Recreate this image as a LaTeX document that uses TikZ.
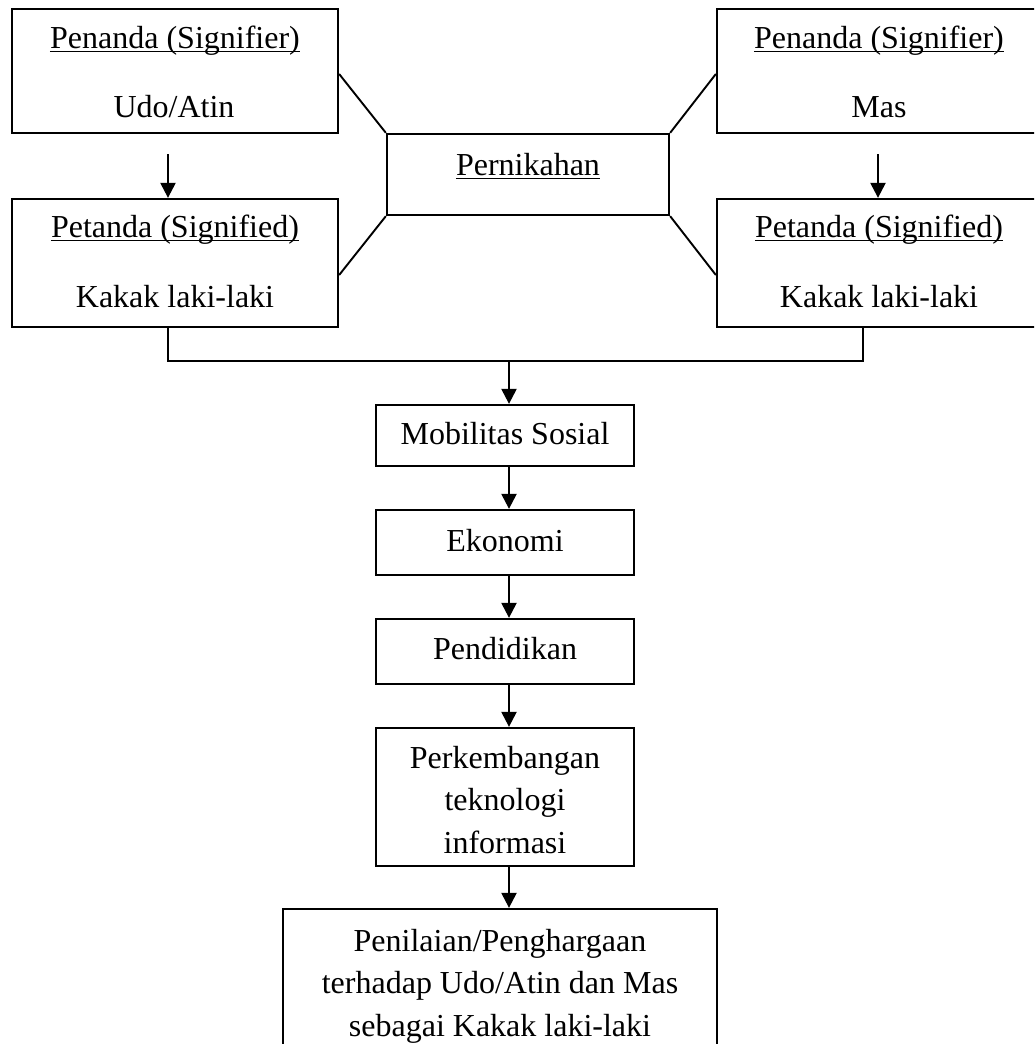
\documentclass[tikz,border=0pt]{standalone}
\usepackage{fontspec}
\setmainfont{Liberation Serif}
\usetikzlibrary{arrows.meta,calc}
\newcommand\ulnode[1]{\draw[uline] ([yshift=-3.5pt]#1.base west) -- ([yshift=-3.5pt]#1.base east);}
\begin{document}
\begin{tikzpicture}[x=1pt,y=-1pt,
  box/.style={draw, line width=2.3pt, rectangle, inner sep=0pt},
  txt/.style={anchor=base, inner sep=0pt, font=\fontsize{32}{42}\selectfont},
  link/.style={line width=1.9pt},
  arr/.style={line width=2.3pt, -{Triangle[length=15pt,width=15pt]}},
  uline/.style={line width=1.6pt}]
\clip (0,0) rectangle (1034,1044);
\fill[white] (0,0) rectangle (1034,1044);

% signifier / signified boxes
\node[box, minimum width=326pt, minimum height=124pt] (sigL) at (175,71) {};
\node[box, minimum width=326pt, minimum height=128pt] (sdL) at (175,263) {};
\node[box, minimum width=326pt, minimum height=124pt] (sigR) at (880,71) {};
\node[box, minimum width=326pt, minimum height=128pt] (sdR) at (880,263) {};

% marriage box
\node[box, minimum width=282pt, minimum height=81pt] (nik) at (528,174.5) {};

% chain of factors
\node[box, minimum width=258pt, minimum height=61pt] (mob) at (505,435.5) {};
\node[box, minimum width=258pt, minimum height=65pt] (eko) at (505,542.5) {};
\node[box, minimum width=258pt, minimum height=65pt] (pend) at (505,651.5) {};
\node[box, minimum width=258pt, minimum height=138pt] (perk) at (505,797) {};
\node[box, minimum width=434pt, minimum height=170pt] (nilai) at (500,994) {};

% texts
\node[txt] (sigLa) at (175,48) {Penanda (Signifier)};
\node[txt] (sigLb) at (174,117) {Udo/Atin};
\node[txt] (sdLa) at (175,237) {Petanda (Signified)};
\node[txt] (sdLb) at (175,307) {Kakak laki-laki};
\node[txt] (sigRa) at (879,48) {Penanda (Signifier)};
\node[txt] (sigRb) at (879,117) {Mas};
\node[txt] (sdRa) at (879,237) {Petanda (Signified)};
\node[txt] (sdRb) at (879,307) {Kakak laki-laki};
\node[txt] (nikT) at (528,175) {Pernikahan};
\node[txt] (mobT) at (505,444) {Mobilitas Sosial};
\node[txt] (ekoT) at (505,551) {Ekonomi};
\node[txt] (pendT) at (505,659) {Pendidikan};
\node[txt] (perkA) at (505,768) {Perkembangan};
\node[txt] (perkB) at (505,810) {teknologi};
\node[txt] (perkC) at (505,853) {informasi};
\node[txt] (nilaiA) at (500,951) {Penilaian/Penghargaan};
\node[txt] (nilaiB) at (500,993) {terhadap Udo/Atin dan Mas};
\node[txt] (nilaiC) at (500,1036) {sebagai Kakak laki-laki};

\ulnode{sigLa}
\ulnode{sdLa}
\ulnode{sigRa}
\ulnode{sdRa}
\ulnode{nikT}

% links to the marriage box
\draw[link] ($(sigL.east)+(0,3)$) -- (nik.north west);
\draw[link] ($(sdL.east)+(0,12)$) -- (nik.south west);
\draw[link] (nik.north east) -- ($(sigR.west)+(0,3)$);
\draw[link] (nik.south east) -- ($(sdR.west)+(0,12)$);

% signifier to signified
\draw[arr] ([xshift=-7pt,yshift=-20pt]sigL.south) -- ([xshift=-7pt]sdL.north);
\draw[arr] ([xshift=-2pt,yshift=-20pt]sigR.south) -- ([xshift=-2pt]sdR.north);

% join of both signified boxes
\coordinate (join) at (509,360);
\draw[link] ([xshift=-7pt]sdL.south) -- ++(0,33) -| ([xshift=-17pt]sdR.south);
\draw[arr] (join) -- (join |- mob.north);

% chain arrows
\draw[arr] ([xshift=4pt]mob.south) -- ([xshift=4pt]eko.north);
\draw[arr] ([xshift=4pt]eko.south) -- ([xshift=4pt]pend.north);
\draw[arr] ([xshift=4pt]pend.south) -- ([xshift=4pt]perk.north);
\draw[arr] ([xshift=4pt]perk.south) -- ([xshift=9pt]nilai.north);
\end{tikzpicture}
\end{document}
